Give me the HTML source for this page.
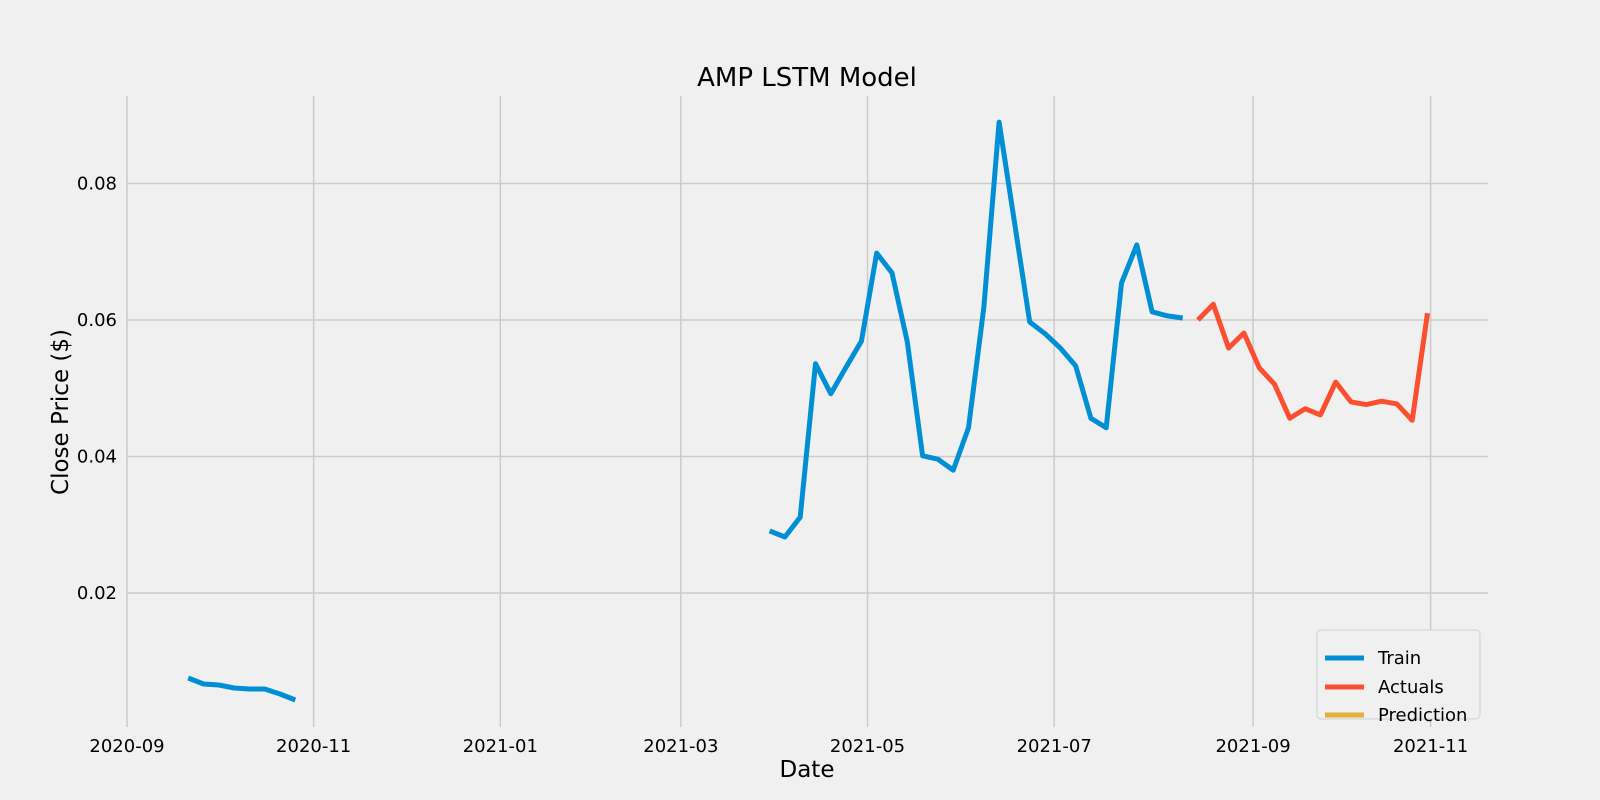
<!DOCTYPE html>
<html><head><meta charset="utf-8"><style>
html,body{margin:0;padding:0;background:#f0f0f0;overflow:hidden;}
svg{display:block;}
svg text{font-family:"DejaVu Sans","Liberation Sans",sans-serif;}
</style></head><body>
<svg id="chart" width="1600" height="800" viewBox="0 0 1600 800" xmlns="http://www.w3.org/2000/svg">
<rect x="0" y="0" width="1600" height="800" fill="#f0f0f0"/>
<g id="grid"></g>
<g id="series"></g>
<g id="axes"></g>
<text x="807" y="86" font-size="26" text-anchor="middle" fill="#000">AMP LSTM Model</text>
<text x="807" y="777" font-size="23" text-anchor="middle" fill="#000">Date</text>
<text x="0" y="0" font-size="23" text-anchor="middle" fill="#000" transform="translate(68,412) rotate(-90)">Close Price ($)</text>
<g>
<rect x="1317" y="630" width="163" height="89" rx="4" fill="#f0f0f0" stroke="#d0d0d0"/>
<line x1="1325" y1="658" x2="1364" y2="658" stroke="#008fd5" stroke-width="5"/>
<text x="1378" y="664" font-size="18">Train</text>
<line x1="1325" y1="687" x2="1364" y2="687" stroke="#fc4f30" stroke-width="5"/>
<text x="1378" y="693" font-size="18">Actuals</text>
<line x1="1325" y1="715" x2="1364" y2="715" stroke="#e5ae38" stroke-width="5"/>
<text x="1378" y="721" font-size="18">Prediction</text>
</g>
</svg>
<script>
// days since 2020-09-01
const train1Days = [20,25,30,35,40,45,50,55];
const train1Vals = [0.00755,0.00667,0.00652,0.00608,0.00593,0.00593,0.0052,0.00432];
const train2Days = [210,215,220,225,230,235,240,245,250,255,260,265,270,275,280,285,290,295,300,305,310,315,320,325,330,335,340,345];
const train2Vals = [0.0291,0.0282,0.0311,0.0536,0.0492,0.0531,0.0569,0.0698,0.0669,0.0568,0.0401,0.0396,0.0380,0.0442,0.0618,0.0890,0.0744,0.0597,0.0580,0.0559,0.0533,0.0456,0.0442,0.0654,0.0710,0.0612,0.0606,0.0603];
const actualDays = [350,355,360,365,370,375,380,385,390,395,400,405,410,415,420,425];
const actualVals = [0.0600,0.0623,0.0559,0.0581,0.0530,0.0506,0.0456,0.0470,0.0461,0.0509,0.0480,0.0476,0.0481,0.0477,0.0453,0.0610];
const xTickLabels = ["2020-09","2020-11","2021-01","2021-03","2021-05","2021-07","2021-09","2021-11"];
const xTickDays = [0,61,122,181,242,303,368,426];
const yTicks = [0.02,0.04,0.06,0.08];

const NS="http://www.w3.org/2000/svg";
const L=127,R=1488,T=96,B=727;
function xs(d){return 127+d*3.06;}
function ys(v){return 729.5-v/0.02*136.5;}
const grid=document.getElementById('grid'),axes=document.getElementById('axes'),series=document.getElementById('series');
function mk(tag,attrs,parent){const e=document.createElementNS(NS,tag);for(const k in attrs)e.setAttribute(k,attrs[k]);parent.appendChild(e);return e;}
xTickDays.forEach((d,i)=>{
  const x=xs(d);
  const gl=mk('line',{x1:x,x2:x,y1:T,y2:B,stroke:'#cbcbcb','stroke-width':1.5},grid);
  
  
  const t=mk('text',{x:x,y:752,'font-size':18,'text-anchor':'middle',fill:'#000'},axes);
  t.textContent=xTickLabels[i];
  
  
});
yTicks.forEach(v=>{
  const y=ys(v);
  const gl=mk('line',{x1:L,x2:R,y1:y,y2:y,stroke:'#cbcbcb','stroke-width':1.5},grid);
  
  
  const t=mk('text',{x:117,y:y+6,'font-size':18,'text-anchor':'end',fill:'#000'},axes);
  t.textContent=v.toFixed(2);
  
  
});
function line(days,vals,color,name){
  const pts=days.map((d,i)=>xs(d).toFixed(1)+','+ys(vals[i]).toFixed(1)).join(' ');
  const p=mk('polyline',{points:pts,fill:'none',stroke:color,'stroke-width':5,'stroke-linejoin':'round'},series);
  
  
}
line(train1Days,train1Vals,'#008fd5','train-line-1');
line(train2Days,train2Vals,'#008fd5','train-line-2');
line(actualDays,actualVals,'#fc4f30','actuals-line');
</script>
</body></html>
